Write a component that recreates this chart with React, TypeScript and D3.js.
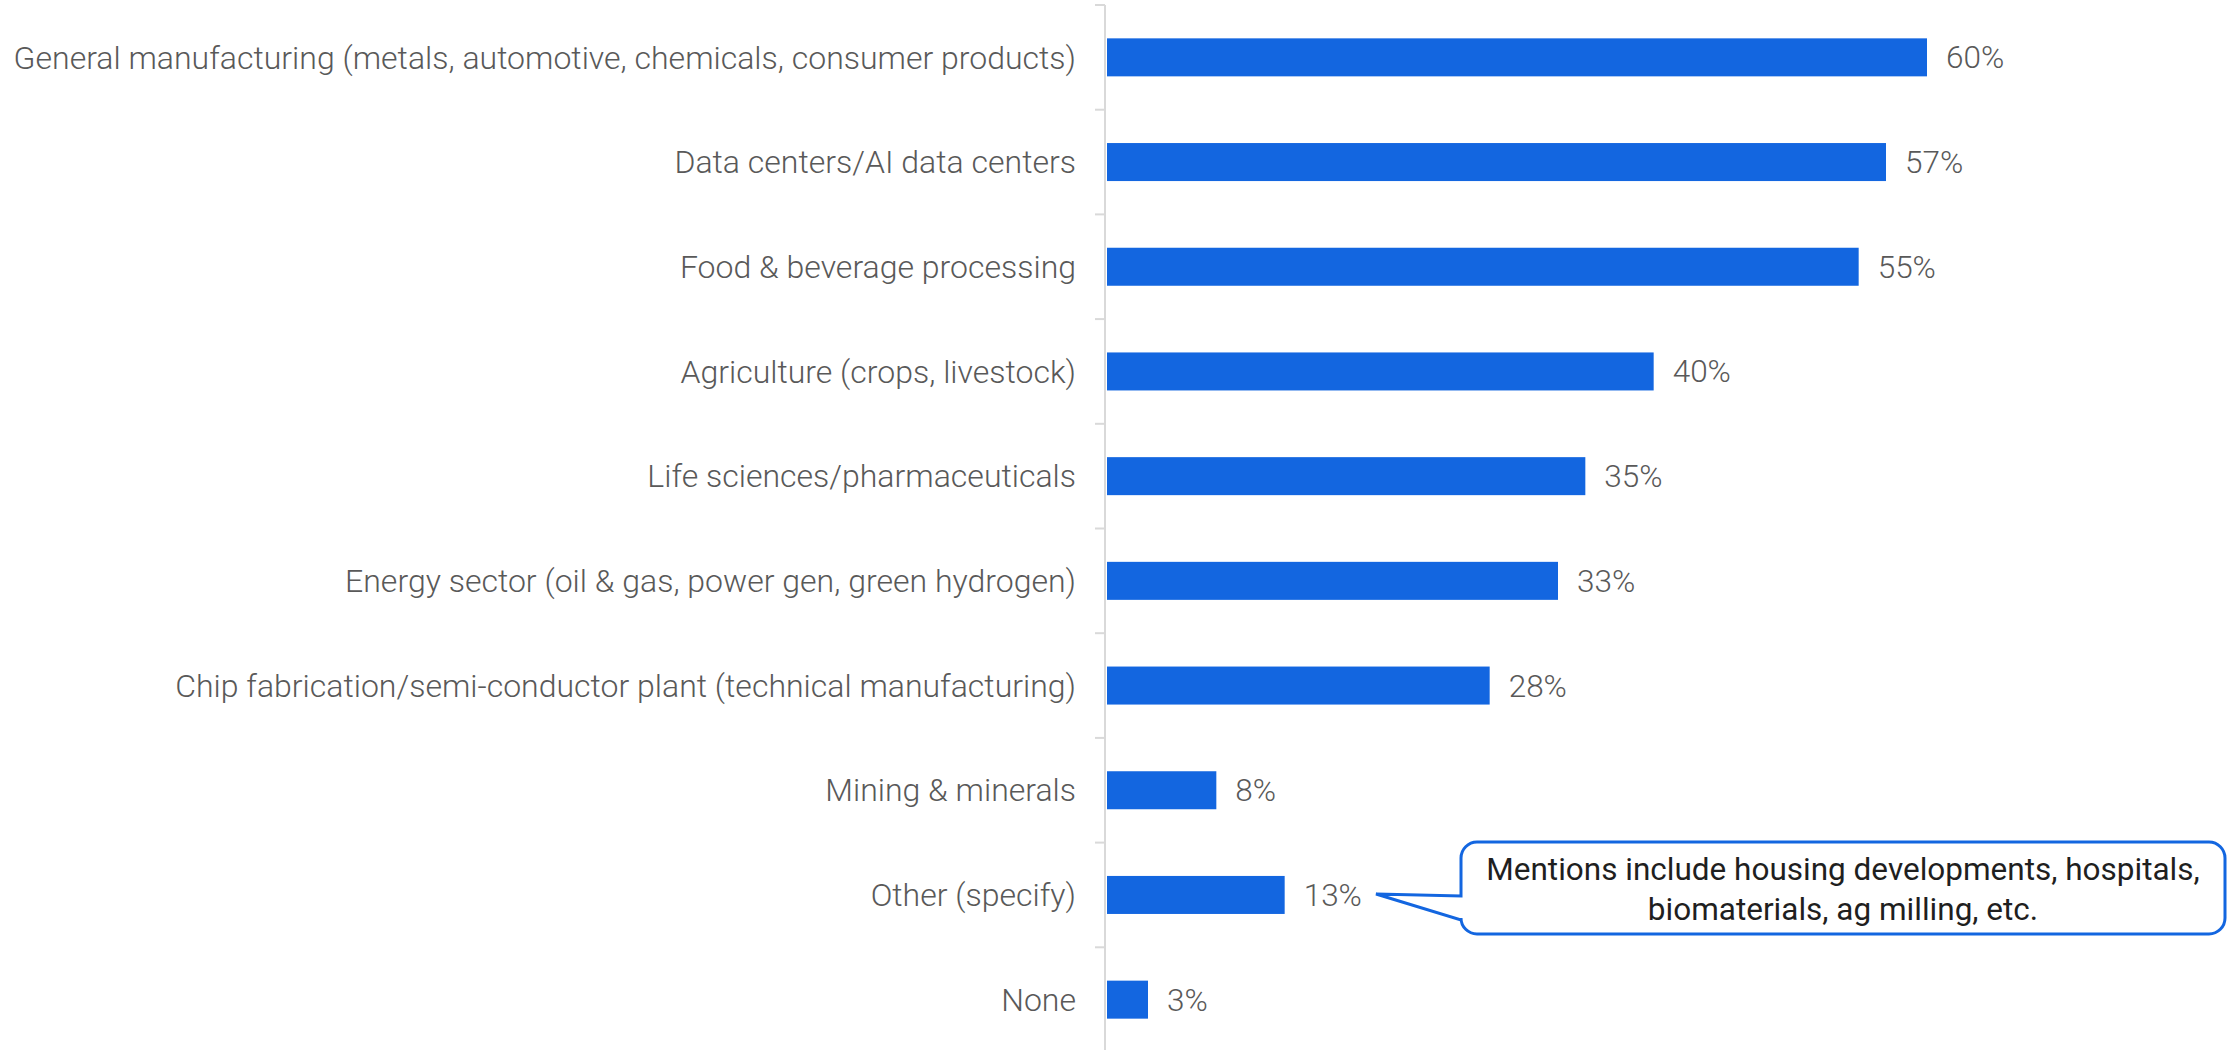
import React from "react";
import * as d3 from "d3";

const categories: string[] = [
  "General manufacturing (metals, automotive, chemicals, consumer products)",
  "Data centers/AI data centers",
  "Food & beverage processing",
  "Agriculture (crops, livestock)",
  "Life sciences/pharmaceuticals",
  "Energy sector (oil & gas, power gen, green hydrogen)",
  "Chip fabrication/semi-conductor plant (technical manufacturing)",
  "Mining & minerals",
  "Other (specify)",
  "None",
];
const values: number[] = [60, 57, 55, 40, 35, 33, 28, 8, 13, 3];
const calloutCategory = "Other (specify)";
const calloutLines: string[] = [
  "Mentions include housing developments, hospitals,",
  "biomaterials, ag milling, etc.",
];

const W = 2229;
const H = 1050;
const BAR = "#1366e0";
const GRAY = "#595959";
const FONT = "Roboto, 'Noto Sans', sans-serif";

export default function App() {
  const axisX = 1105;
  const x = d3.scaleLinear().domain([0, 60]).range([axisX + 2, 1927]);
  const y = d3
    .scaleBand<string>()
    .domain(categories)
    .range([5, 5 + 10 * 104.7])
    .paddingInner(0.637)
    .paddingOuter(0.3185);
  const step = y.step();
  const bw = y.bandwidth();

  const cy = (y(calloutCategory) ?? 0) + bw / 2;
  const bx0 = 1461, bx1 = 2225, by0 = 842, by1 = 934, r = 16;
  const tipX = 1376, tipY = cy - 1;
  const j0 = cy + 1, j1 = cy + 25;
  const p = d3.path();
  p.moveTo(bx0 + r, by0);
  p.lineTo(bx1 - r, by0);
  p.arcTo(bx1, by0, bx1, by0 + r, r);
  p.lineTo(bx1, by1 - r);
  p.arcTo(bx1, by1, bx1 - r, by1, r);
  p.lineTo(bx0 + r, by1);
  p.arcTo(bx0, by1, bx0, by1 - r, r);
  p.lineTo(bx0, j1);
  p.lineTo(tipX, tipY);
  p.lineTo(bx0, j0);
  p.lineTo(bx0, by0 + r);
  p.arcTo(bx0, by0, bx0 + r, by0, r);
  p.closePath();

  const boundaries = d3.range(categories.length + 1).map((i) => 5 + i * step);

  return (
    <svg
      width={W}
      height={H}
      style={{ position: "absolute", left: 0, top: 0, background: "#fff" }}
    >
      <line x1={axisX} x2={axisX} y1={5} y2={H} stroke="#d9d9d9" strokeWidth={2} />
      {boundaries.map((b, i) => (
        <line key={i} x1={axisX - 10} x2={axisX} y1={b} y2={b} stroke="#d9d9d9" strokeWidth={2} />
      ))}
      {categories.map((c, i) => {
        const top = y(c) ?? 0;
        const mid = top + bw / 2;
        return (
          <g key={c}>
            <rect x={x(0)} y={top} width={x(values[i]) - x(0)} height={bw} fill={BAR} />
            <text
              x={axisX - 29}
              y={mid}
              dy="0.35em"
              textAnchor="end"
              fontFamily={FONT}
              fontWeight={300}
              fontSize={32}
              fill={GRAY}
            >
              {c}
            </text>
            <text
              x={x(values[i]) + 19}
              y={mid}
              dy="0.35em"
              fontFamily={FONT}
              fontWeight={300}
              fontSize={31.5}
              fill={GRAY}
            >
              {values[i]}%
            </text>
          </g>
        );
      })}
      <path d={p.toString()} fill="#fff" stroke={BAR} strokeWidth={3} />
      {calloutLines.map((l, i) => (
        <text
          key={i}
          x={(bx0 + bx1) / 2}
          y={880 + i * 40}
          textAnchor="middle"
          fontFamily={FONT}
          fontWeight={400}
          fontSize={31.5}
          fill="#1f1f1f"
        >
          {l}
        </text>
      ))}
    </svg>
  );
}
